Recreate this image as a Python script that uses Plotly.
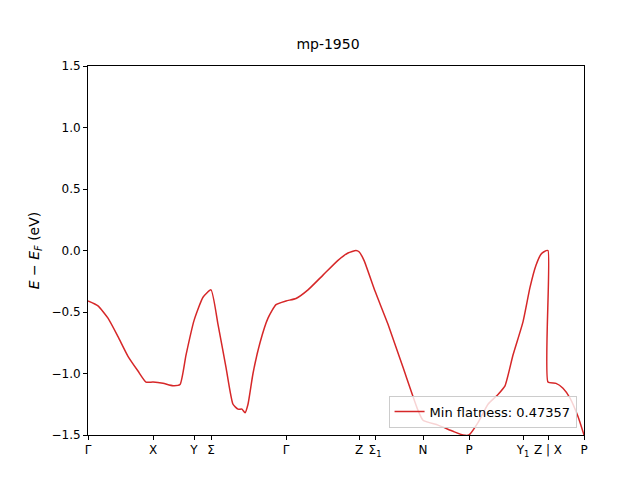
import plotly.graph_objects as go

# k-path distance (arbitrary units) and band energy (eV)
k = [0, 10, 20, 30, 40, 50, 58, 65, 75, 85, 92, 98, 106, 115, 123, 130, 138, 145, 150, 154,
     157, 160, 165, 172, 180, 188, 198, 208, 220, 235, 250, 260, 268, 271, 276, 287, 300,
     315, 330, 335, 350, 365, 375, 381, 390, 400, 410, 417, 425, 435, 442, 448, 453, 456,
     460, 460, 468, 475, 482, 490, 496]
e = [-0.41, -0.45, -0.55, -0.70, -0.86, -0.98, -1.07, -1.07, -1.08, -1.10, -1.09, -0.85,
     -0.57, -0.38, -0.32, -0.60, -0.95, -1.25, -1.29, -1.29, -1.32, -1.25, -1.00, -0.75,
     -0.55, -0.44, -0.41, -0.39, -0.32, -0.20, -0.08, -0.02, 0.00, -0.01, -0.08, -0.33,
     -0.60, -0.95, -1.30, -1.38, -1.42, -1.47, -1.50, -1.50, -1.40, -1.25, -1.17, -1.10,
     -0.85, -0.58, -0.30, -0.12, -0.03, -0.01, 0.00, -1.07, -1.08, -1.12, -1.20, -1.35, -1.50]

tick_pos = [0, 65, 106, 123, 198, 271, 287, 335, 381, 435, 460, 496]
tick_text = ["Γ", "X", "Y", "Σ", "Γ", "Z", "Σ<sub>1</sub>", "N", "P", "Y<sub>1</sub>", "Z | X", "P"]

fig = go.Figure()
fig.add_trace(go.Scatter(x=k, y=e, mode="lines",
                         line=dict(color="#d62728", width=1.5, shape="spline", smoothing=0.5),
                         name="Min flatness: 0.47357"))

axis = dict(showline=True, linecolor="black", mirror=True, showgrid=False, zeroline=False,
            ticks="outside", ticklen=4, tickcolor="black", automargin=False)
fig.update_layout(
    width=640, height=480, template="simple_white",
    font=dict(family="DejaVu Sans", size=12, color="black"),
    title=dict(text="mp-1950", x=0.5, y=0.925, xanchor="center", yanchor="middle", font=dict(size=14)),
    margin=dict(l=80, r=64, t=58, b=53, autoexpand=False),
    xaxis=dict(axis, range=[0, 496], tickmode="array", tickvals=tick_pos, ticktext=tick_text),
    yaxis=dict(axis, range=[-1.5, 1.5], tickvals=[-1.5, -1.0, -0.5, 0, 0.5, 1.0, 1.5],
               tickformat=".1f", title=dict(text="<i>E</i> − <i>E<sub>F</sub></i> (eV)", standoff=8)),
    showlegend=True,
    legend=dict(x=0.985, y=0.02, xanchor="right", yanchor="bottom", bordercolor="#cccccc",
                borderwidth=1, bgcolor="rgba(255,255,255,0.8)", font=dict(size=13)),
)
fig.write_html("out.html")
